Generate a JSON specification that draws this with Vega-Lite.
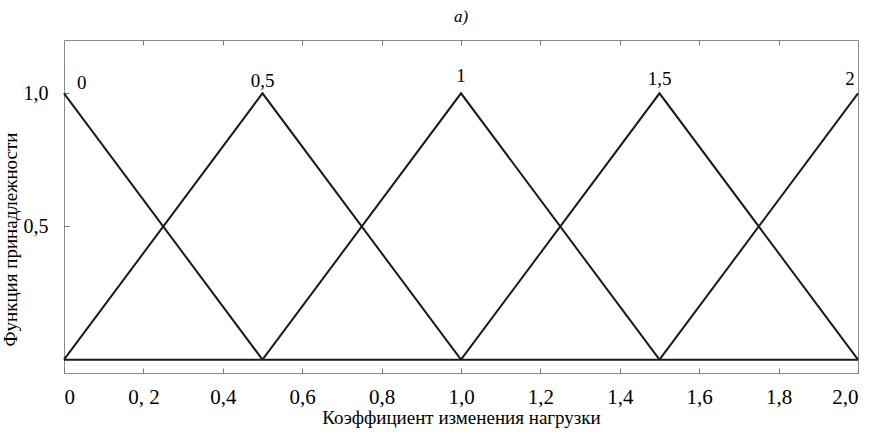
{
  "$schema": "https://vega.github.io/schema/vega-lite/v6.json",
  "width": 794,
  "height": 333,
  "autosize": {"type": "none"},
  "padding": {"left": 64, "top": 40, "right": 17, "bottom": 59},
  "background": "white",
  "title": {"text": "a)", "font": "Liberation Serif", "fontStyle": "italic", "fontWeight": "normal", "fontSize": 17, "color": "black", "anchor": "middle", "offset": 14},
  "config": {
    "view": {"stroke": "#8a8a8a", "strokeWidth": 1},
    "axis": {"labelFont": "Liberation Serif", "titleFont": "Liberation Serif", "labelColor": "black", "titleColor": "black", "grid": false, "domain": false, "tickColor": "#777", "tickWidth": 1}
  },
  "datasets": {
    "curves": [
      {"s": "t0", "x": 0, "y": 1}, {"s": "t0", "x": 0.5, "y": 0},
      {"s": "t05", "x": 0, "y": 0}, {"s": "t05", "x": 0.5, "y": 1}, {"s": "t05", "x": 1, "y": 0},
      {"s": "t1", "x": 0.5, "y": 0}, {"s": "t1", "x": 1, "y": 1}, {"s": "t1", "x": 1.5, "y": 0},
      {"s": "t15", "x": 1, "y": 0}, {"s": "t15", "x": 1.5, "y": 1}, {"s": "t15", "x": 2, "y": 0},
      {"s": "t2", "x": 1.5, "y": 0}, {"s": "t2", "x": 2, "y": 1},
      {"s": "base", "x": 0, "y": 0}, {"s": "base", "x": 2, "y": 0}
    ],
    "labels": [
      {"t": "0", "x": 0.045, "y": 1.04},
      {"t": "0,5", "x": 0.5, "y": 1.045},
      {"t": "1", "x": 1.0, "y": 1.065},
      {"t": "1,5", "x": 1.5, "y": 1.055},
      {"t": "2", "x": 1.98, "y": 1.055}
    ]
  },
  "resolve": {"axis": {"x": "independent"}},
  "layer": [
    {
      "data": {"name": "curves"},
      "mark": {"type": "line", "color": "#1a1a1a", "strokeWidth": 2},
      "encoding": {
        "x": {"field": "x", "type": "quantitative", "scale": {"domain": [0, 2], "nice": false, "zero": false},
          "axis": {"orient": "bottom", "values": [0, 0.2, 0.4, 0.6, 0.8, 1.0, 1.2, 1.4, 1.6, 1.8, 2.0], "tickSize": -5, "labelPadding": 18, "labelFontSize": 21,
            "labelExpr": "datum.value == 0 ? '0' : (abs(datum.value - 0.2) < 0.001 ? '0, 2' : replace(format(datum.value, '.1f'), '.', ','))",
            "title": "Коэффициент изменения нагрузки", "titleFontSize": 19, "titleFontWeight": "normal", "titlePadding": 1}},
        "y": {"field": "y", "type": "quantitative", "scale": {"domain": [-0.05, 1.2], "nice": false, "zero": false},
          "axis": {"values": [0.5, 1.0], "tickSize": -5, "labelPadding": 21, "labelFontSize": 20,
            "labelExpr": "replace(format(datum.value, '.1f'), '.', ',')",
            "title": "Функция принадлежности", "titleFontSize": 19, "titleFontWeight": "normal", "titleBaseline": "middle", "titleX": -54, "titleY": 199}},
        "detail": {"field": "s"}
      }
    },
    {
      "data": {"name": "curves"},
      "mark": {"type": "point", "opacity": 0},
      "encoding": {
        "x": {"field": "x", "type": "quantitative",
          "axis": {"orient": "top", "values": [0.2, 0.4, 0.6, 0.8, 1.0, 1.2, 1.4, 1.6, 1.8], "tickSize": -5, "labels": false, "title": null}},
        "y": {"field": "y", "type": "quantitative"}
      }
    },
    {
      "data": {"name": "labels"},
      "mark": {"type": "text", "font": "Liberation Serif", "fontSize": 19, "color": "black", "baseline": "middle"},
      "encoding": {
        "x": {"field": "x", "type": "quantitative", "axis": null},
        "y": {"field": "y", "type": "quantitative"},
        "text": {"field": "t"}
      }
    }
  ]
}
